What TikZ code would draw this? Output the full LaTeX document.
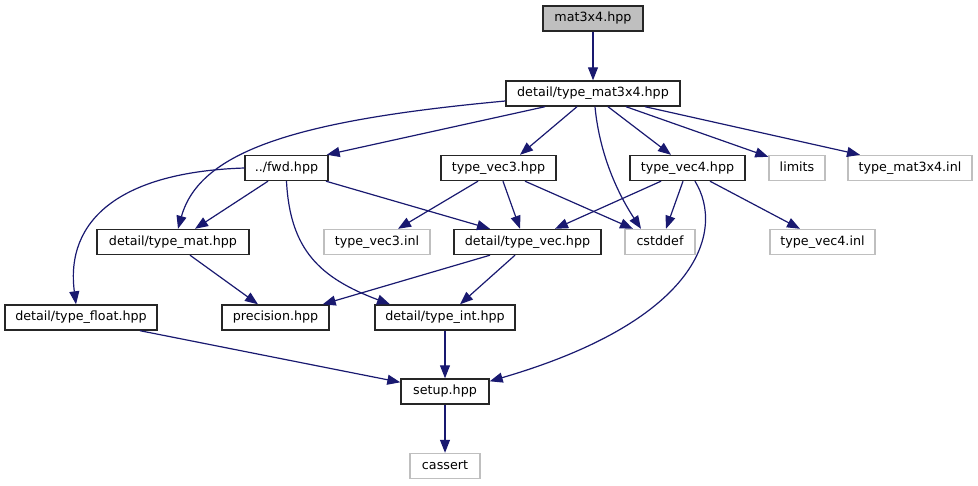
\documentclass[tikz,border=0pt]{standalone}
\usepackage{fontspec}
\setmainfont{DejaVu Sans}
\usetikzlibrary{arrows.meta}
\definecolor{edgec}{HTML}{191970}
\definecolor{grayb}{HTML}{BFBFBF}
\tikzset{
  fbox/.style={draw=black!85, line width=1.4pt, minimum height=25pt, inner sep=0pt, font=\fontsize{12.7}{14}\selectfont, text height=9.2pt, text depth=3pt},
  gbox/.style={fbox, draw=grayb},
  rootbox/.style={fbox, fill=grayb},
  edge/.style={draw=edgec, line width=1.2pt, -{Triangle[length=13pt,width=10pt]}}
}
\begin{document}
\begin{tikzpicture}[x=1pt,y=-1pt]
\useasboundingbox (0,0) rectangle (978,485);
\node[rootbox, minimum width=100pt] (root) at (593,18.5) {mat3x4.hpp};
\node[fbox, minimum width=174pt] (tm34) at (593,93.5) {detail/type\_mat3x4.hpp};
\node[fbox, minimum width=83pt] (fwd) at (286.5,168) {../fwd.hpp};
\node[fbox, minimum width=115pt] (vec3) at (498.5,168) {type\_vec3.hpp};
\node[fbox, minimum width=115pt] (vec4) at (687.5,168) {type\_vec4.hpp};
\node[gbox, minimum width=56pt] (limits) at (797,168) {limits};
\node[gbox, minimum width=124pt] (inl) at (910,168) {type\_mat3x4.inl};
\node[fbox, minimum width=152pt] (tmat) at (173,242) {detail/type\_mat.hpp};
\node[gbox, minimum width=106pt] (vec3inl) at (377,242) {type\_vec3.inl};
\node[fbox, minimum width=147pt] (tvec) at (527.5,242) {detail/type\_vec.hpp};
\node[gbox, minimum width=70pt] (cstddef) at (660,242) {cstddef};
\node[gbox, minimum width=105pt] (vec4inl) at (822.5,242) {type\_vec4.inl};
\node[fbox, minimum width=152pt] (tfloat) at (81,317.5) {detail/type\_float.hpp};
\node[fbox, minimum width=107pt] (prec) at (275.5,317.5) {precision.hpp};
\node[fbox, minimum width=140pt] (tint) at (445,317.5) {detail/type\_int.hpp};
\node[fbox, minimum width=88pt] (setup) at (445,391.5) {setup.hpp};
\node[gbox, minimum width=70pt] (cassert) at (445,466) {cassert};

\draw[edge] (root.south) -- (tm34.north);
\draw[edge] ([xshift=-48pt]tm34.south) -- ([xshift=-2pt]fwd.north east);
\draw[edge] ([yshift=-7.5pt]tm34.west) .. controls (300,120) and (200,150) .. ([xshift=5pt]tmat.north);
\draw[edge] ([xshift=-16pt]tm34.south) -- ([xshift=21.5pt]vec3.north);
\draw[edge] ([xshift=2pt]tm34.south) .. controls (600,160) and (622,200) .. ([xshift=-19pt]cstddef.north);
\draw[edge] ([xshift=15pt]tm34.south) -- ([xshift=-16.5pt]vec4.north);
\draw[edge] ([xshift=33pt]tm34.south) -- ([yshift=-2pt]limits.north west);
\draw[edge] ([xshift=52pt]tm34.south) -- ([xshift=-50pt]inl.north);
\draw[edge] ([xshift=-18.5pt]fwd.south) -- ([xshift=22pt]tmat.north);
\draw[edge] (fwd.west) .. controls (120,172) and (65,220) .. ([xshift=-5pt]tfloat.north);
\draw[edge] ([xshift=39.5pt]fwd.south) -- ([xshift=-37.5pt]tvec.north);
\draw[edge] (fwd.south) .. controls (290,250) and (320,278) .. ([xshift=-55pt]tint.north);
\draw[edge] ([xshift=-20.5pt]vec3.south) -- ([xshift=21pt]vec3inl.north);
\draw[edge] ([xshift=4.5pt]vec3.south) -- ([xshift=-7.5pt]tvec.north);
\draw[edge] ([xshift=26.5pt]vec3.south) -- ([xshift=-27pt]cstddef.north);
\draw[edge] ([xshift=-26.5pt]vec4.south) -- ([xshift=27.5pt]tvec.north);
\draw[edge] ([xshift=-4.5pt]vec4.south) -- ([xshift=6pt]cstddef.north);
\draw[edge] ([xshift=22.5pt]vec4.south) -- ([xshift=-22.5pt]vec4inl.north);
\draw[edge] ([xshift=7.5pt]vec4.south) .. controls (725,230) and (700,320) .. ([yshift=-3pt]setup.north east);
\draw[edge] ([xshift=17pt]tmat.south) -- ([xshift=-17.5pt]prec.north);
\draw[edge] ([xshift=-37.5pt]tvec.south) -- ([xshift=-7pt]prec.north east);
\draw[edge] ([xshift=-12.5pt]tvec.south) -- ([xshift=15pt]tint.north);
\draw[edge] ([xshift=59pt]tfloat.south) -- ([yshift=-4pt]setup.north west);
\draw[edge] (tint.south) -- (setup.north);
\draw[edge] (setup.south) -- (cassert.north);
\end{tikzpicture}
\end{document}
